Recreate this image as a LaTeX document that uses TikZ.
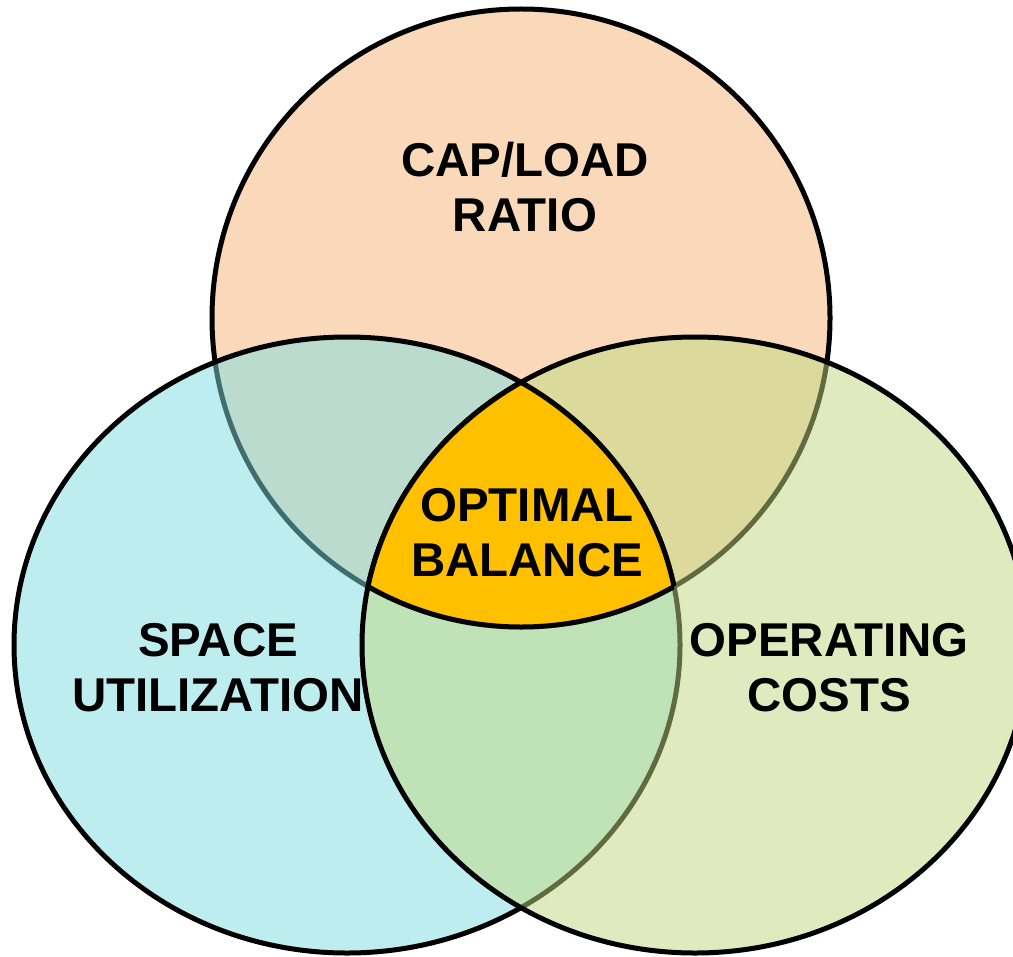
\documentclass[tikz,border=0pt]{standalone}
\usepackage{fontspec}
\setmainfont{Liberation Sans}
\definecolor{peach}{RGB}{249,217,186}
\definecolor{skyfill}{RGB}{125,221,225}
\definecolor{leaffill}{RGB}{193,217,129}
\definecolor{gold}{RGB}{255,192,0}
\tikzset{
 ring/.style={draw=black, line width=0.1cm},
 lbl/.style={font=\bfseries\fontsize{27}{31.3}\selectfont, align=center, inner sep=0pt}
}

\begin{document}
\begin{tikzpicture}[x=0.02cm, y=-0.02cm]
 \useasboundingbox (0,0) rectangle (1013,956);
 \fill [white] (0,0) rectangle (1013,956);
 \draw [ring, fill=peach] (521,318) circle [radius=309];
 \draw [ring, fill=skyfill, fill opacity=0.5] (347,645) ellipse [x radius=333, y radius=308];
 \draw [ring, fill=leaffill, fill opacity=0.5] (695,645) ellipse [x radius=333, y radius=308];
 \begin{scope}
  \clip (521,318) circle [radius=309];
  \clip (347,645) ellipse [x radius=333, y radius=308];
  \fill [gold] (695,645) ellipse [x radius=333, y radius=308];
 \end{scope}
 \begin{scope}
  \clip (347,645) ellipse [x radius=333, y radius=308];
  \clip (695,645) ellipse [x radius=333, y radius=308];
  \draw [ring] (521,318) circle [radius=309];
 \end{scope}
 \begin{scope}
  \clip (521,318) circle [radius=309];
  \clip (695,645) ellipse [x radius=333, y radius=308];
  \draw [ring] (347,645) ellipse [x radius=333, y radius=308];
 \end{scope}
 \begin{scope}
  \clip (521,318) circle [radius=309];
  \clip (347,645) ellipse [x radius=333, y radius=308];
  \draw [ring] (695,645) ellipse [x radius=333, y radius=308];
 \end{scope}
 \node [lbl] (ratio) at (525,187) {CAP/LOAD\\RATIO};
 \node [lbl] (balance) at (527,533) {OPTIMAL\\BALANCE};
 \node [lbl] (space) at (218,668) {SPACE\\UTILIZATION};
 \node [lbl] (costs) at (829,668) {OPERATING\\COSTS};
\end{tikzpicture}
\end{document}
